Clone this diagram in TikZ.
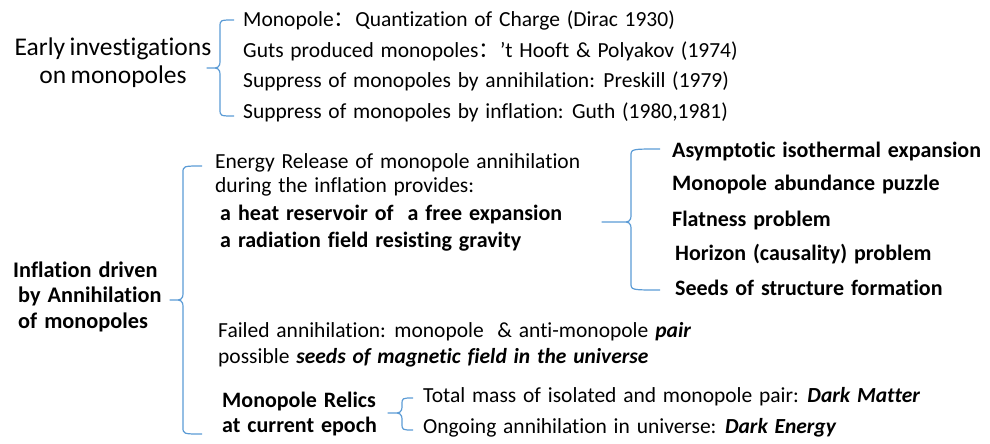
\documentclass[tikz,border=0pt]{standalone}
\usepackage{fontspec}
\setmainfont{Carlito}[Ligatures=CommonOff, WordSpace={1.4}]
\newfontfamily\cjkfont{Noto Sans CJK SC}
\definecolor{bracecol}{HTML}{5B9BD5}
\newcommand\mybrace[7]{% name, x, top, bottom, tip x, end x, tip y
  \coordinate (#1) at (#5,#7);
  \draw[brc] (#6,#3) .. controls (#2,#3) .. (#2,{#3+7}) -- (#2,{#7-7})
    .. controls (#2,#7) and ({#2-3},#7) .. ({#2-8},#7) -- (#1)
    -- ({#2-8},#7) .. controls ({#2-3},#7) and (#2,#7) .. (#2,{#7+7})
    -- (#2,{#4-7}) .. controls (#2,#4) .. (#6,#4);}
\begin{document}
\begin{tikzpicture}[x=1pt,y=-1pt,
  brc/.style={draw=bracecol, line width=1.2pt, line join=round},
  txt/.style={anchor=base west, inner sep=0pt, font=\fontsize{21.5}{26}\selectfont},
  btxt/.style={anchor=base west, inner sep=0pt, font=\fontsize{22}{26}\selectfont\bfseries},
  title/.style={inner sep=0pt, align=center, font=\fontsize{25.5}{28}\selectfont},
  btitle/.style={inner sep=0pt, align=left, font=\fontsize{22.3}{25.5}\selectfont\bfseries}]
\useasboundingbox (0,0) rectangle (990,444);
% top group
\node[title, anchor=base] (early) at (113,83) {Early\hspace{4.5pt}investigations\\on\hspace{4.5pt}monopoles};
\mybrace{b1}{220}{20}{116}{207}{234}{68}
\node[txt] (t1) at (243,27) {Monopole{\cjkfont ：}Quantization of Charge (Dirac 1930)};
\node[txt] (t2) at (243,57) {Guts produced monopoles{\cjkfont ：}\char"27t Hooft \& Polyakov (1974)};
\node[txt] (t3) at (243,88) {Suppress of monopoles by annihilation: Preskill (1979)};
\node[txt] (t4) at (243,118) {Suppress of monopoles by inflation: Guth (1980,1981)};
% middle group
\node[btitle, anchor=base west] (infl) at (13,328) {Inflation driven\\\hspace*{5pt}by Annihilation\\\hspace*{5pt}of monopoles};
\mybrace{b2}{183}{166}{434}{170}{202}{300}
\node[txt] (e1) at (215,168) {Energy Release of monopole annihilation};
\node[txt] (e2) at (215,192) {during the inflation provides:};
\node[btxt] (e3) at (220,220) {a heat reservoir of\ \ a free expansion};
\node[btxt] (e4) at (220,247) {a radiation field resisting gravity};
\mybrace{b3}{631}{149}{290}{602}{660}{222}
\node[btxt] (r1) at (672,157) {Asymptotic isothermal expansion};
\node[btxt] (r2) at (672,190) {Monopole abundance puzzle};
\node[btxt] (r3) at (672,226) {Flatness problem};
\node[btxt] (r4) at (675,260) {Horizon (causality) problem};
\node[btxt] (r5) at (675,295) {Seeds of structure formation};
\node[txt] (f1) at (218,337) {Failed annihilation: monopole\ \ \& anti-monopole \textbf{\textit{pair}}};
\node[txt] (f2) at (218,363) {possible \textbf{\textit{seeds of magnetic field in the universe}}};
\node[btxt] (relic1) at (222,407) {Monopole Relics};
\node[btxt] (relic2) at (222,432) {at current epoch};
\mybrace{b4}{402}{398}{430}{388}{413}{413}
\node[txt] (m1) at (423,402) {Total mass of isolated and monopole pair: \textbf{\textit{Dark Matter}}};
\node[txt] (m2) at (423,433) {Ongoing annihilation in universe: \textbf{\textit{Dark Energy}}};
\end{tikzpicture}
\end{document}
